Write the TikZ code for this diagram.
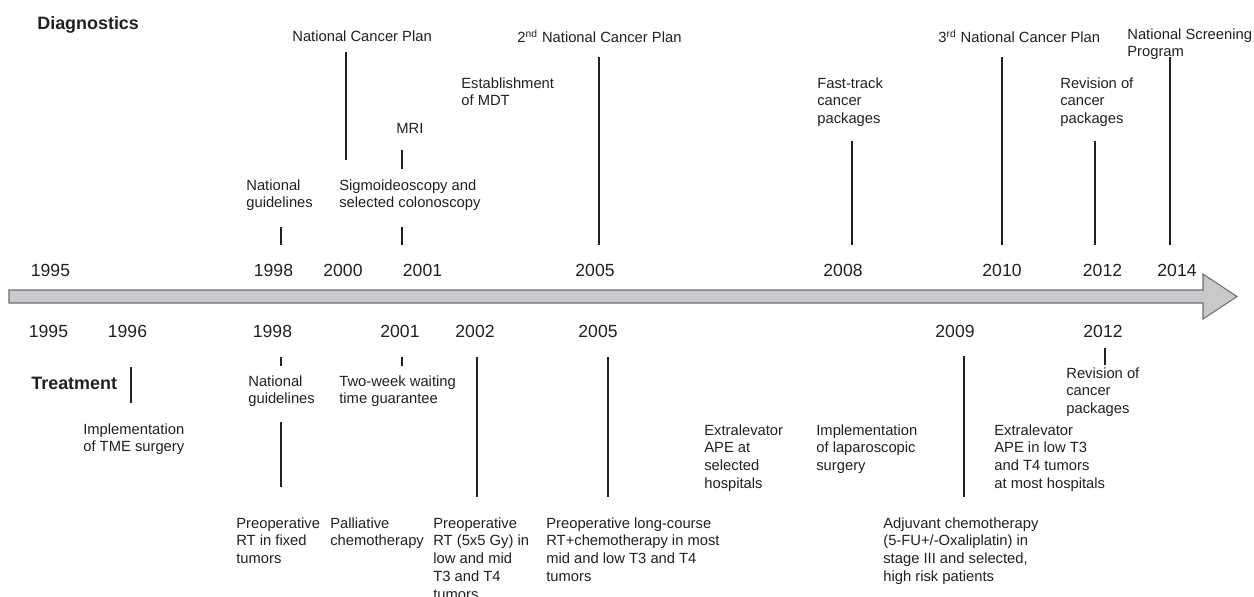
\documentclass[tikz,border=0pt]{standalone}
\usepackage{fontspec}
\setmainfont{Liberation Sans}
\definecolor{shaftgray}{HTML}{C8C9CB}
\definecolor{edgegray}{HTML}{6D6E71}
\definecolor{inkgray}{HTML}{231F20}

\begin{document}
\begin{tikzpicture}[x=0.02cm, y=-0.02cm,
	every node/.style={inner sep=0pt, text=inkgray},
	event/.style={anchor=north west, align=left, font=\fontsize{8.4}{10.2}\selectfont},
	year/.style={font=\fontsize{10}{12}\selectfont},
	heading/.style={anchor=north west, font=\fontsize{10.2}{12}\selectfont\bfseries},
	stem/.style={line width=1.1pt, draw=inkgray}]
	\useasboundingbox (0,0) rectangle (1254,596);

	% time axis
	\draw [edgegray, fill=shaftgray, line width=0.6pt] (9,290) -- (1203,290) -- (1203,274)
	-- (1237,296.5) -- (1203,319) -- (1203,303) -- (9,303) -- cycle;

	% diagnostics
	\node [heading] (diag) at (37,16) {Diagnostics};
	\node [event] (ncpA) at (292,30) {National Cancer Plan};
	\node [event] (mri) at (396,123) {MRI};
	\node [event] (sigmo) at (339,179) {Sigmoideoscopy and\\selected colonoscopy};
	\node [event] (guideA) at (246,179) {National\\guidelines};
	\node [event] (ncpB) at (517,30) {2\textsuperscript{nd} National Cancer Plan};
	\node [event] (mdt) at (461,77) {Establishment\\of MDT};
	\node [event] (fast) at (817,77) {Fast-track\\cancer\\packages};
	\node [event] (ncpC) at (938,30) {3\textsuperscript{rd} National Cancer Plan};
	\node [event] (reviA) at (1060,77) {Revision of\\cancer\\packages};
	\node [event] (screen) at (1127,28) {National Screening\\Program};

	\draw [stem] (346,52) -- (346,160);
	\draw [stem] (402,150) -- (402,169);
	\draw [stem] (402,227) -- (402,245);
	\draw [stem] (281,227) -- (281,245);
	\draw [stem] (599,57) -- (599,245);
	\draw [stem] (852,141) -- (852,245);
	\draw [stem] (1002,57) -- (1002,245);
	\draw [stem] (1095,141) -- (1095,245);
	\draw [stem] (1170,57) -- (1170,245);

	\node [year] (dA) at (50.5,270.5) {1995};
	\node [year] (dB) at (273.5,270.5) {1998};
	\node [year] (dC) at (343,270.5) {2000};
	\node [year] (dD) at (422.5,270.5) {2001};
	\node [year] (dE) at (595,270.5) {2005};
	\node [year] (dF) at (843,270.5) {2008};
	\node [year] (dG) at (1002,270.5) {2010};
	\node [year] (dH) at (1102.5,270.5) {2012};
	\node [year] (dI) at (1177,270.5) {2014};

	% treatment
	\node [year] (tA) at (48.5,331) {1995};
	\node [year] (tB) at (127.5,331) {1996};
	\node [year] (tC) at (272.5,331) {1998};
	\node [year] (tD) at (400,331) {2001};
	\node [year] (tE) at (475,331) {2002};
	\node [year] (tF) at (598,331) {2005};
	\node [year] (tG) at (955,331) {2009};
	\node [year] (tH) at (1103,331) {2012};

	\node [heading] (treat) at (31,377) {Treatment};
	\node [event] (tme) at (83,423) {Implementation\\of TME surgery};
	\node [event] (guideB) at (248,375) {National\\guidelines};
	\node [event] (twoweek) at (339,375) {Two-week waiting\\time guarantee};
	\node [event] (rtfix) at (236,517) {Preoperative\\RT in fixed\\tumors};
	\node [event] (pallia) at (330,517) {Palliative\\chemotherapy};
	\node [event] (rtshort) at (433,517) {Preoperative\\RT (5x5 Gy) in\\low and mid\\T3 and T4\\tumors};
	\node [event] (rtlong) at (546,517) {Preoperative long-course\\RT+chemotherapy in most\\mid and low T3 and T4\\tumors};
	\node [event] (apeA) at (704,424) {Extralevator\\APE at\\selected\\hospitals};
	\node [event] (lapa) at (816,424) {Implementation\\of laparoscopic\\surgery};
	\node [event] (adju) at (883,517) {Adjuvant chemotherapy\\(5-FU+/-Oxaliplatin) in\\stage III and selected,\\high risk patients};
	\node [event] (reviB) at (1066,367) {Revision of\\cancer\\packages};
	\node [event] (apeB) at (994,424) {Extralevator\\APE in low T3\\and T4 tumors\\at most hospitals};

	\draw [stem] (131,367) -- (131,403);
	\draw [stem] (281,357) -- (281,366);
	\draw [stem] (281,422) -- (281,487);
	\draw [stem] (402,357) -- (402,366);
	\draw [stem] (477,357) -- (477,497);
	\draw [stem] (608,357) -- (608,497);
	\draw [stem] (964,356) -- (964,497);
	\draw [stem] (1105,348) -- (1105,365);
\end{tikzpicture}
\end{document}
